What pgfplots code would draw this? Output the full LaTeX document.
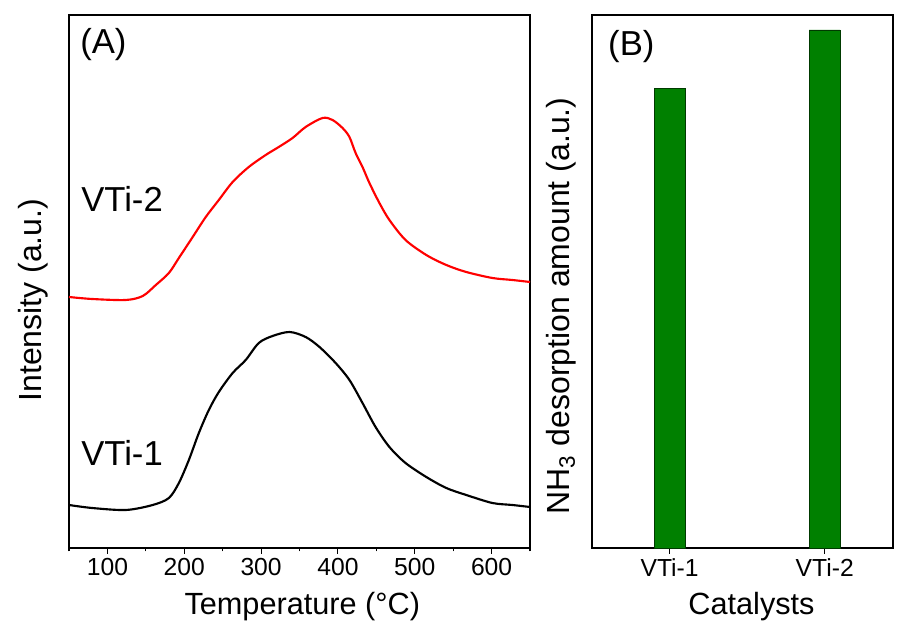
\documentclass[border=0pt]{standalone}
\usepackage{pgfplots}
\pgfplotsset{compat=1.18}
\usepackage{fontspec}
\setmainfont{Liberation Sans}
\definecolor{barg}{RGB}{0,128,0}
\definecolor{curvered}{RGB}{255,0,0}
\begin{document}
\begin{tikzpicture}
\pgfplotsset{
  myaxis/.style={
    scale only axis, anchor=south west,
    height=399.75pt, ymin=0,
    ytick=\empty,
    xtick pos=left, tick align=outside,
    major tick length=4.5pt, minor tick length=2.6pt,
    axis line style={line width=0.9pt},
    every tick/.style={black, line width=0.8pt},
    ticklabel style={font=\fontsize{18.5}{22}\selectfont},
    /pgf/number format/assume math mode=true,
    clip=false,
  }
}
\begin{axis}[myaxis,
  at={(51.75pt,61.5pt)}, width=345.75pt,
  xmin=50, xmax=650, ymax=533,
  xtick={100,200,...,600}, minor xtick={50,150,...,650},
]
\addplot[curvered, line width=1.6pt, smooth, tension=0.5] coordinates {
(50,251) (80,249) (124,248) (146,252) (163,263) (180,275) (193,290) (211,311)
(228,331) (245,348) (263,366) (284,381) (306,393) (323,401) (341,410) (358,421)
(380,430) (393,428) (406,420) (415,411) (423,395) (432,381) (441,365) (454,345)
(467,328) (488,308) (515,293) (541,283) (567,276) (601,270) (627,268) (650,266)
};
\addplot[black, line width=1.6pt, smooth, tension=0.5] coordinates {
(50,43) (80,40) (124,38) (159,43) (180,50) (193,65) (206,88) (219,115)
(232,138) (245,156) (263,175) (280,188) (297,205) (315,212) (337,216) (358,211)
(376,201) (397,185) (415,168) (432,145) (449,121) (467,101) (488,85) (515,71)
(541,60) (567,53) (601,45) (627,43) (650,41)
};
\node[anchor=west, inner sep=0pt, font=\fontsize{26}{30}\selectfont] at (rel axis cs:0.024,0.944) {(A)};
\node[anchor=west, inner sep=0pt, font=\fontsize{26}{30}\selectfont] at (rel axis cs:0.026,0.655) {VTi-2};
\node[anchor=west, inner sep=0pt, font=\fontsize{26}{30}\selectfont] at (rel axis cs:0.026,0.178) {VTi-1};
\node[anchor=base, inner sep=0pt, font=\fontsize{23}{27}\selectfont] at (rel axis cs:0.506,-0.1257) {Temperature (\textdegree C)};
\node[anchor=base, rotate=90, inner sep=0pt, font=\fontsize{24}{28}\selectfont] at (rel axis cs:-0.0586,0.465) {Intensity (a.u.)};
\end{axis}
\begin{axis}[myaxis,
  at={(444pt,61.5pt)}, width=225.75pt,
  xmin=-0.5, xmax=1.44, ymax=100,
  xtick={0,1}, xticklabels={VTi-1,VTi-2},
]
\addplot[ybar, bar width=23.25pt, fill=barg, draw=black!55!barg, line width=0.6pt] coordinates {(0,86.3) (1,97.2)};
\node[anchor=west, inner sep=0pt, font=\fontsize{26}{30}\selectfont] at (rel axis cs:0.053,0.94) {(B)};
\node[anchor=base, inner sep=0pt, font=\fontsize{23}{27}\selectfont] at (rel axis cs:0.53,-0.1257) {Catalysts};
\node[anchor=base, rotate=90, inner sep=0pt, font=\fontsize{24}{28}\selectfont] at (rel axis cs:-0.0731,0.454) {NH\textsubscript{3} desorption amount (a.u.)};
\end{axis}
\pgfresetboundingbox
\path (0pt,0pt) rectangle (672.75pt,472.5pt);
\end{tikzpicture}
\end{document}
